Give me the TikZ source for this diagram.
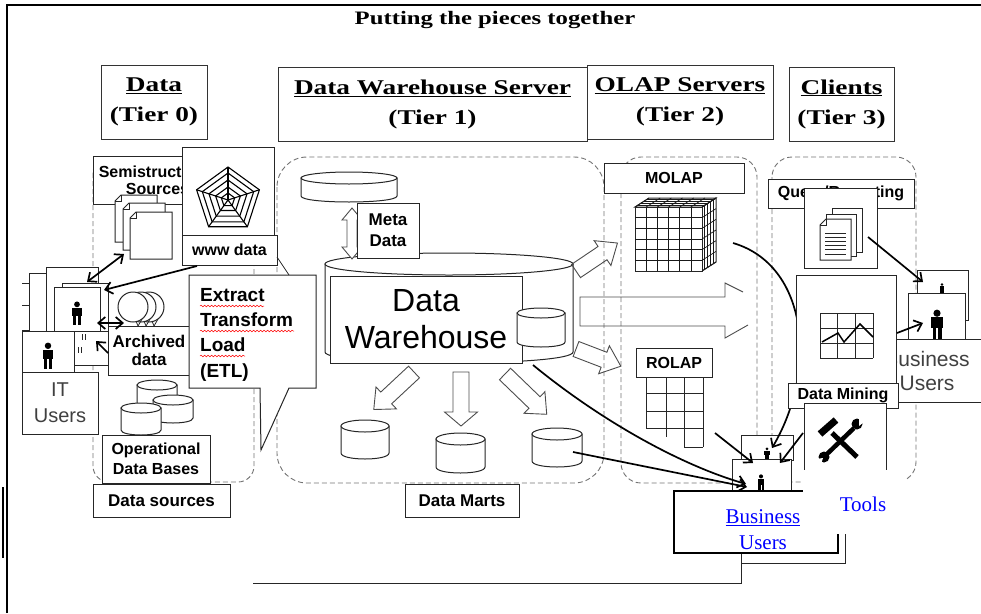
\documentclass[tikz,border=0pt]{standalone}
\usepackage{fontspec}
\setmainfont{Liberation Sans}
\newfontfamily\hdrfont[FakeStretch=1.3]{Liberation Serif}
\newfontfamily\linkfont{Liberation Serif}
\usetikzlibrary{arrows.meta,decorations.pathmorphing}

\tikzstyle{tier} = [draw=black!80, line width=1pt, inner sep=0pt, align=center, font=\hdrfont\bfseries\fontsize{21}{30}\selectfont]
\tikzstyle{tag} = [draw=black!85, fill=white, line width=1pt, inner sep=0pt, align=center, font=\bfseries\fontsize{16}{19}\selectfont]
\tikzstyle{frame} = [draw=black!85, fill=white, line width=1pt]
\tikzstyle{plain} = [frame, inner sep=0pt, align=center, text=black!75, font=\fontsize{20}{26}\selectfont]
\tikzstyle{zone} = [draw=black!55, dash pattern=on 5pt off 3pt, line width=0.9pt]
\tikzstyle{hollow} = [draw=black!70, line width=0.9pt, line join=miter]
\tikzstyle{feed} = [line width=1.7pt, -{Straight Barb[length=7pt,width=12pt]}]
\tikzstyle{twoway} = [line width=1.7pt, {Straight Barb[length=7pt,width=12pt]}-{Straight Barb[length=7pt,width=12pt]}]
\tikzstyle{squiggle} = [red, line width=0.5pt, decorate, decoration={snake, amplitude=0.8pt, segment length=3.5pt}]
\tikzstyle{link} = [inner sep=0pt, align=center, text=blue, font=\linkfont\fontsize{21}{26}\selectfont]

% drum: x1 y1 x2 y2 ry
\newcommand{\drum}[5]{%
  \path[frame] (#1,#2+#5) -- (#1,#4-#5) .. controls (#1,#4+#5/3) and (#3,#4+#5/3) .. (#3,#4-#5) -- (#3,#2+#5) -- cycle;
  \path[frame] ({(#1+#3)/2},#2+#5) ellipse [x radius={(#3-#1)/2}, y radius=#5];}
% sheet with dog-ear: x y w h
\newcommand{\sheet}[4]{%
  \path[frame] (#1,#2+6) -- (#1+6,#2) -- (#1+#3,#2) -- (#1+#3,#2+#4) -- (#1,#2+#4) -- cycle;
  \draw[black!85, line width=0.8pt] (#1,#2+6) -- (#1+6,#2+6) -- (#1+6,#2);}
% person: x y(feet) height
\newcommand{\person}[3]{%
  \fill[black] (#1,#2-0.86*#3) circle[radius=0.12*#3];
  \fill[black] (#1-0.2*#3,#2-0.72*#3) rectangle (#1+0.2*#3,#2-0.36*#3);
  \fill[black] (#1-0.15*#3,#2-0.4*#3) rectangle (#1-0.03*#3,#2);
  \fill[black] (#1+0.03*#3,#2-0.4*#3) rectangle (#1+0.15*#3,#2);}
% block arrow: x y angle length shaft head headlength
\newcommand{\fatarrow}[7]{%
  \path[hollow, shift={(#1,#2)}, rotate=#3] (0,-#5) -- (#4-#7,-#5) -- (#4-#7,-#6) -- (#4,0) -- (#4-#7,#6) -- (#4-#7,#5) -- (0,#5) -- cycle;}

\begin{document}
\begin{tikzpicture}[x=1pt, y=-1pt]
\useasboundingbox (0,0) rectangle (981,613);
\draw[line width=2pt] (7,613) -- (7,5) -- (981,5);
\draw[line width=1.2pt] (3,487) -- (3,558);
\node[font=\hdrfont\bfseries\fontsize{19}{23}\selectfont] (title) at (495,20.5) {Putting the pieces together};

\node[tier, minimum width=106, minimum height=74] (tier0) at (154,102) {\underline{Data}\\(Tier 0)};
\node[tier, minimum width=309, minimum height=74] (tier1) at (432.5,104) {\underline{Data Warehouse Server}\\(Tier 1)};
\node[tier, minimum width=186, minimum height=74] (tier2) at (680,102) {\underline{OLAP Servers}\\(Tier 2)};
\node[tier, minimum width=105, minimum height=74] (tier3) at (841.5,104) {\underline{Clients}\\(Tier 3)};

\draw[zone, rounded corners=16pt] (93,157) rectangle (254,482);
\draw[zone, rounded corners=30pt] (277,157) rectangle (604,483);
\draw[zone, rounded corners=20pt] (621,157) rectangle (757,483);
\draw[zone, rounded corners=20pt] (772,157) rectangle (916,482);

% data sources
\node[tag, minimum width=129, minimum height=48, font=\bfseries\fontsize{16}{17}\selectfont] (semi) at (157.5,180) {Semistructured\\Sources};
\sheet{115}{195}{42}{47}
\sheet{123}{203}{42}{47}
\sheet{130}{212}{42}{47}
\node[frame, minimum width=92, minimum height=110] (www) at (228,202) {};
\begin{scope}[shift={(228,200)}, line width=1.1pt]
  \foreach \r in {7,13,20,27,33}
    \draw (-90:\r) -- (-18:\r) -- (54:\r) -- (126:\r) -- (198:\r) -- cycle;
  \foreach \a in {-90,-18,54,126,198}
    \draw (0,0) -- (\a:33);
\end{scope}
\node[tag, minimum width=95, minimum height=30] (wwwlbl) at (229.5,250) {www data};

\foreach \cx in {149,141,133} {
  \path[frame] (\cx,307) circle[radius=15];
  \draw[black!85, line width=0.8pt] (\cx+3,321) -- (\cx+5,326) -- (\cx+9,319);
}
\node[tag, minimum width=82, minimum height=49, font=\bfseries\fontsize{17}{18}\selectfont] (archived) at (149,350.5) {Archived\\data};

\path[frame] (189,275) -- (316,275) -- (316,388) -- (289,388) -- (261,450) -- (260,388) -- (189,388) -- cycle;
\node[anchor=north west, align=left, inner sep=0pt, font=\bfseries\fontsize{19}{25.3}\selectfont] (etl) at (200,288) {Extract\\Transform\\Load\\(ETL)};
\draw[squiggle] (200,306) -- (264,306);
\draw[squiggle] (200,331) -- (294,331);
\draw[squiggle] (200,356) -- (245,356);
\draw[black!85, line width=0.8pt] (277,257) -- (289,275);

\drum{137}{380}{177}{410}{5}
\drum{153}{395}{193}{423}{5}
\drum{121}{403}{161}{435}{5}
\node[tag, minimum width=108, minimum height=48, font=\bfseries\fontsize{16}{20}\selectfont] (opdb) at (156,459) {Operational\\Data Bases};
\node[tag, minimum width=137, minimum height=33, font=\bfseries\fontsize{17}{20}\selectfont] (srcs) at (161.5,500.5) {Data sources};

% IT users
\draw[black!85, line width=0.8pt] (22,283) -- (29,283) (22,305) -- (29,305) (22,330) -- (29,330);
\path[frame] (29,273) rectangle (46,331);
\node[frame, minimum width=52, minimum height=64] (itb) at (72,299) {};
\path[frame] (62,283) rectangle (108,331);
\node[frame, minimum width=46, minimum height=44] (itf) at (77,309) {};
\person{77}{325}{24}
\node[frame, minimum width=52, minimum height=41] (itm) at (48,351.5) {};
\person{48}{369}{27}
\node[frame, minimum width=34, minimum height=34] (itx) at (91,348) {};
\draw[black!85, line width=0.8pt] (82,334) -- (82,340) (85,334) -- (85,340) (78,347) -- (78,353) (81,347) -- (81,353);
\node[plain, minimum width=76, minimum height=62] (itusers) at (60,403) {IT\\Users};

\coordinate (pgtip) at (124,254);
\coordinate (itbtip) at (87,282);
\coordinate (wwwout) at (197,266);
\coordinate (itftip) at (104,290);
\coordinate (itfout) at (97,323);
\coordinate (arcin) at (124,323);
\coordinate (arcout) at (108,353);
\coordinate (itxtip) at (96,341);
\draw[twoway] (pgtip) -- (itbtip);
\draw[feed] (wwwout) -- (itftip);
\draw[twoway] (itfout) -- (arcin);
\draw[feed] (arcout) -- (itxtip);

% warehouse
\drum{325}{253}{573}{363}{11}
\drum{301}{172}{397}{202}{6}
\path[hollow, fill=white] (352,208) -- (362,220) -- (357,220) -- (357,247) -- (362,247) -- (352,259) -- (342,247) -- (347,247) -- (347,220) -- (342,220) -- cycle;
\node[tag, minimum width=62, minimum height=55, font=\bfseries\fontsize{17}{21}\selectfont] (meta) at (388,230.5) {Meta\\Data};
\node[frame, inner sep=0pt, minimum width=192, minimum height=87, align=center, font=\fontsize{32}{37}\selectfont] (dw) at (426,319.5) {Data\\Warehouse};
\drum{517}{308}{565}{347}{5}

\fatarrow{576}{271}{34}{50}{8}{15}{18}
\fatarrow{576}{349}{-21}{48}{8}{15}{18}
\draw[hollow] (748,325) -- (725,338) -- (725,326) -- (580,326) -- (580,297) -- (725,297) -- (725,283) -- (743,292);
\fatarrow{414}{372}{-137}{55}{8}{15}{17}
\fatarrow{461}{372}{-90}{54}{8}{16.5}{14}
\fatarrow{505}{374}{-44}{58}{8}{15}{17}

\drum{341}{420}{389}{459}{6}
\drum{436}{433}{485}{473}{6}
\drum{532}{428}{582}{467}{6}
\node[tag, minimum width=114, minimum height=33, font=\bfseries\fontsize{17}{20}\selectfont] (marts) at (462,500.5) {Data Marts};

% olap
\node[tag, minimum width=140, minimum height=30] (molap) at (674,178) {MOLAP};
\begin{scope}[black!90, line width=0.7pt]
  \path[frame] (702,207) -- (716,198) -- (716,262) -- (702,271) -- cycle;
  \path[frame] (635,207) -- (649,198) -- (716,198) -- (702,207) -- cycle;
  \path[frame] (635,207) rectangle (702,271);
  \foreach \i in {1,...,5} {
    \draw (635+\i*11.17,207) -- +(0,64);
    \draw (635,207+\i*10.67) -- +(67,0);
  }
  \foreach \i in {0,...,6} {
    \draw (635+\i*11.17,207) -- +(14,-9);
    \draw (702,207+\i*10.67) -- +(14,-9);
  }
  \foreach \k in {1,...,4} {
    \draw (635+\k*2.8,207-\k*1.8) -- +(67,0);
    \draw (702+\k*2.8,207-\k*1.8) -- +(0,64);
  }
\end{scope}
\node[tag, minimum width=76, minimum height=29] (rolap) at (674,362.5) {ROLAP};
\draw[black!85, line width=0.9pt] (646,377) -- (646,428) (666,377) -- (666,437) (684,377) -- (684,447) (703,377) -- (703,447)
  (646,393) -- (703,393) (646,411) -- (703,411) (646,428) -- (703,428) (684,447) -- (703,447);

% business users
\node[frame, minimum width=52, minimum height=25] (bback) at (767,447.5) {};
\person{767}{460}{13}
\node[frame, minimum width=59, minimum height=32] (bfront) at (761.5,475) {};
\person{761}{491}{17}

\coordinate (dwout) at (533,365);
\coordinate (martout) at (573,452);
\coordinate (cubeout) at (733,243);
\coordinate (bfin) at (746,484);
\coordinate (bfin2) at (747,487);
\coordinate (bbin) at (772,448);
\draw[feed] (dwout) .. controls (600,420) and (680,465) .. (bfin);
\draw[feed] (martout) -- (bfin2);
\draw[feed] (cubeout) .. controls (808,265) and (818,370) .. (bbin);

% clients
\node[tag, minimum width=146, minimum height=29] (query) at (841,193.5) {Query/Reporting};
\node[frame, minimum width=73, minimum height=80] (docs) at (840.5,228) {};
\path[frame] (832,208) rectangle (862,252);
\path[frame] (826,214) rectangle (856,256);
\sheet{820}{219}{31}{41}
\foreach \k in {0,...,5}
  \draw[black!85, line width=0.8pt] (825,233+\k*4.2) -- (846,233+\k*4.2);

\node[frame, minimum width=51, minimum height=50] (rback) at (942.5,295) {};
\person{942}{294}{11}
\node[frame, minimum width=57, minimum height=46] (rfront) at (936.5,316) {};
\person{937}{339}{30}
\node[plain, minimum width=110, minimum height=63, font=\fontsize{21}{24}\selectfont] (bizusers) at (927,370.5) {Business\\Users};

\node[frame, minimum width=100, minimum height=108] (chart) at (846,329) {};
\foreach \gx in {820,837.67,855.33,873}
  \draw[black!85, line width=0.9pt] (\gx,313) -- (\gx,358);
\foreach \gy in {313,328,343,358}
  \draw[black!85, line width=0.9pt] (820,\gy) -- (873,\gy);
\draw[black, line width=1.5pt] (822,342) -- (838,333) -- (844,342) -- (860,324) -- (873,337);
\node[tag, minimum width=110, minimum height=25] (mining) at (843,395.5) {Data Mining};
\node[frame, minimum width=82, minimum height=67] (tools) at (845,436.5) {};
\draw[line width=5pt] (832,433) -- (857,457);
\draw[line width=7pt] (820,434) -- (836,420);
\draw[line width=4.5pt] (854,428) -- (827,454);
\fill (857,424) circle[radius=5.5];
\fill (824,457) circle[radius=5.5];
\fill[white] (859,417) -- (864,422) -- (859,426) -- cycle;
\fill[white] (816,459) -- (821,464) -- (823,458) -- cycle;

\coordinate (rolapout) at (715,433);
\coordinate (bbin2) at (753,463);
\coordinate (toolsout) at (803,433);
\coordinate (bbin3) at (780,463);
\coordinate (docsout) at (868,237);
\coordinate (rbin) at (923,282);
\coordinate (chartout) at (897,333);
\coordinate (rfin) at (923,323);
\draw[feed] (rolapout) -- (bbin2);
\draw[feed] (toolsout) -- (bbin3);
\draw[feed] (docsout) -- (rbin);
\draw[feed] (chartout) -- (rfin);

% links
\draw[black!85, line width=0.8pt] (741,535) -- (741,583) -- (253,583);
\draw[black!85, line width=0.8pt] (845,533) -- (845,563) -- (741,563);
\node[draw=black, fill=white, line width=2pt, minimum width=164, minimum height=62] (bizlink) at (756,522) {};
\fill[white] (803,470) rectangle (905,534);
\node[link] (bizlinktext) at (763,530) {\underline{Business}\\Users};
\node[link] (toolslink) at (863,504) {Tools};
\end{tikzpicture}
\end{document}
